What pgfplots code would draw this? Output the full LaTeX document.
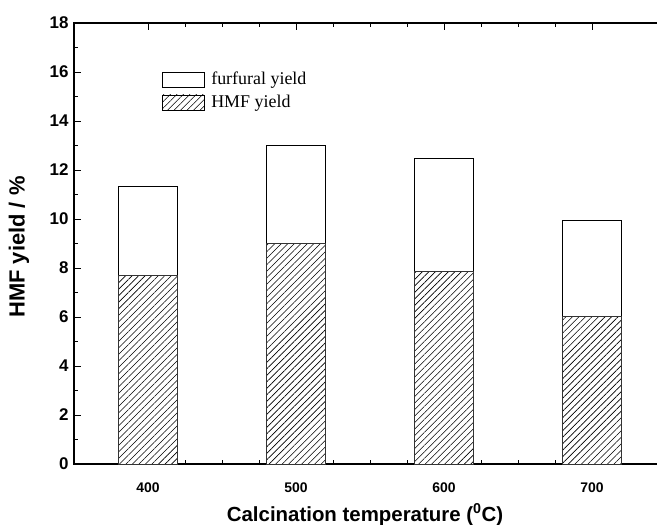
\documentclass[border=0pt]{standalone}
\usepackage{pgfplots}
\pgfplotsset{compat=1.18}
\usetikzlibrary{patterns.meta}
\usepackage{fontspec}
\setmainfont{Liberation Sans}
\newfontfamily\timesfont{Liberation Serif}
\begin{document}
\begin{tikzpicture}
\useasboundingbox (-74bp,-61bp) rectangle (583bp,464bp);
\begin{axis}[
  at={(0,0)}, anchor=south west,
  scale only axis, width=592bp, height=441bp,
  xmin=350, xmax=750, ymin=0, ymax=18,
  xtick={400,500,600,700},
  minor x tick num=3,
  ytick={0,2,...,18},
  minor y tick num=1,
  tick align=inside,
  major tick length=7bp, minor tick length=4bp,
  axis line style={line width=1.3bp},
  every tick/.style={black, line width=0.8bp},
  /pgf/number format/assume math mode=true,
  ticklabel style={font=\bfseries\fontsize{14}{14}\selectfont},
  yticklabel style={font=\bfseries\fontsize{17}{17}\selectfont, xshift=-2bp},
  xticklabel style={yshift=-15bp},
  xlabel={\bfseries Calcination temperature (\textsuperscript{0}C)},
  ylabel={\bfseries HMF yield / \%},
  xlabel style={font=\bfseries\fontsize{20.5}{20.5}\selectfont, at={(axis description cs:0.4916,0)}, anchor=base, yshift=-57bp},
  ylabel style={font=\bfseries\fontsize{22}{22}\selectfont, at={(axis description cs:0,0.492)}, anchor=center, yshift=55bp},
  ybar stacked, bar width=40,
  legend style={at={(axis description cs:0.149,0.893)}, anchor=north west,
    draw=none, fill=none, font=\timesfont\fontsize{18}{18}\selectfont,
    row sep=5bp, inner sep=0pt},
  legend cell align=left,
  reverse legend,
  legend image code/.code={\draw[#1,draw=black,line width=0.8bp] (0bp,-7.5bp) rectangle (42bp,7.5bp); \path (46bp,0bp);},
]
\addplot[draw=black!80, line width=1bp, fill=white, postaction={pattern={Lines[angle=45,distance=4.6bp,line width=0.6bp]}}]
  coordinates {(400,7.7) (500,8.98) (600,7.87) (700,6.0)};
\addlegendentry{HMF yield}
\addplot[draw=black, line width=1bp, fill=white]
  coordinates {(400,3.63) (500,4.0) (600,4.58) (700,3.92)};
\addlegendentry{furfural yield}
\end{axis}
\end{tikzpicture}
\end{document}
